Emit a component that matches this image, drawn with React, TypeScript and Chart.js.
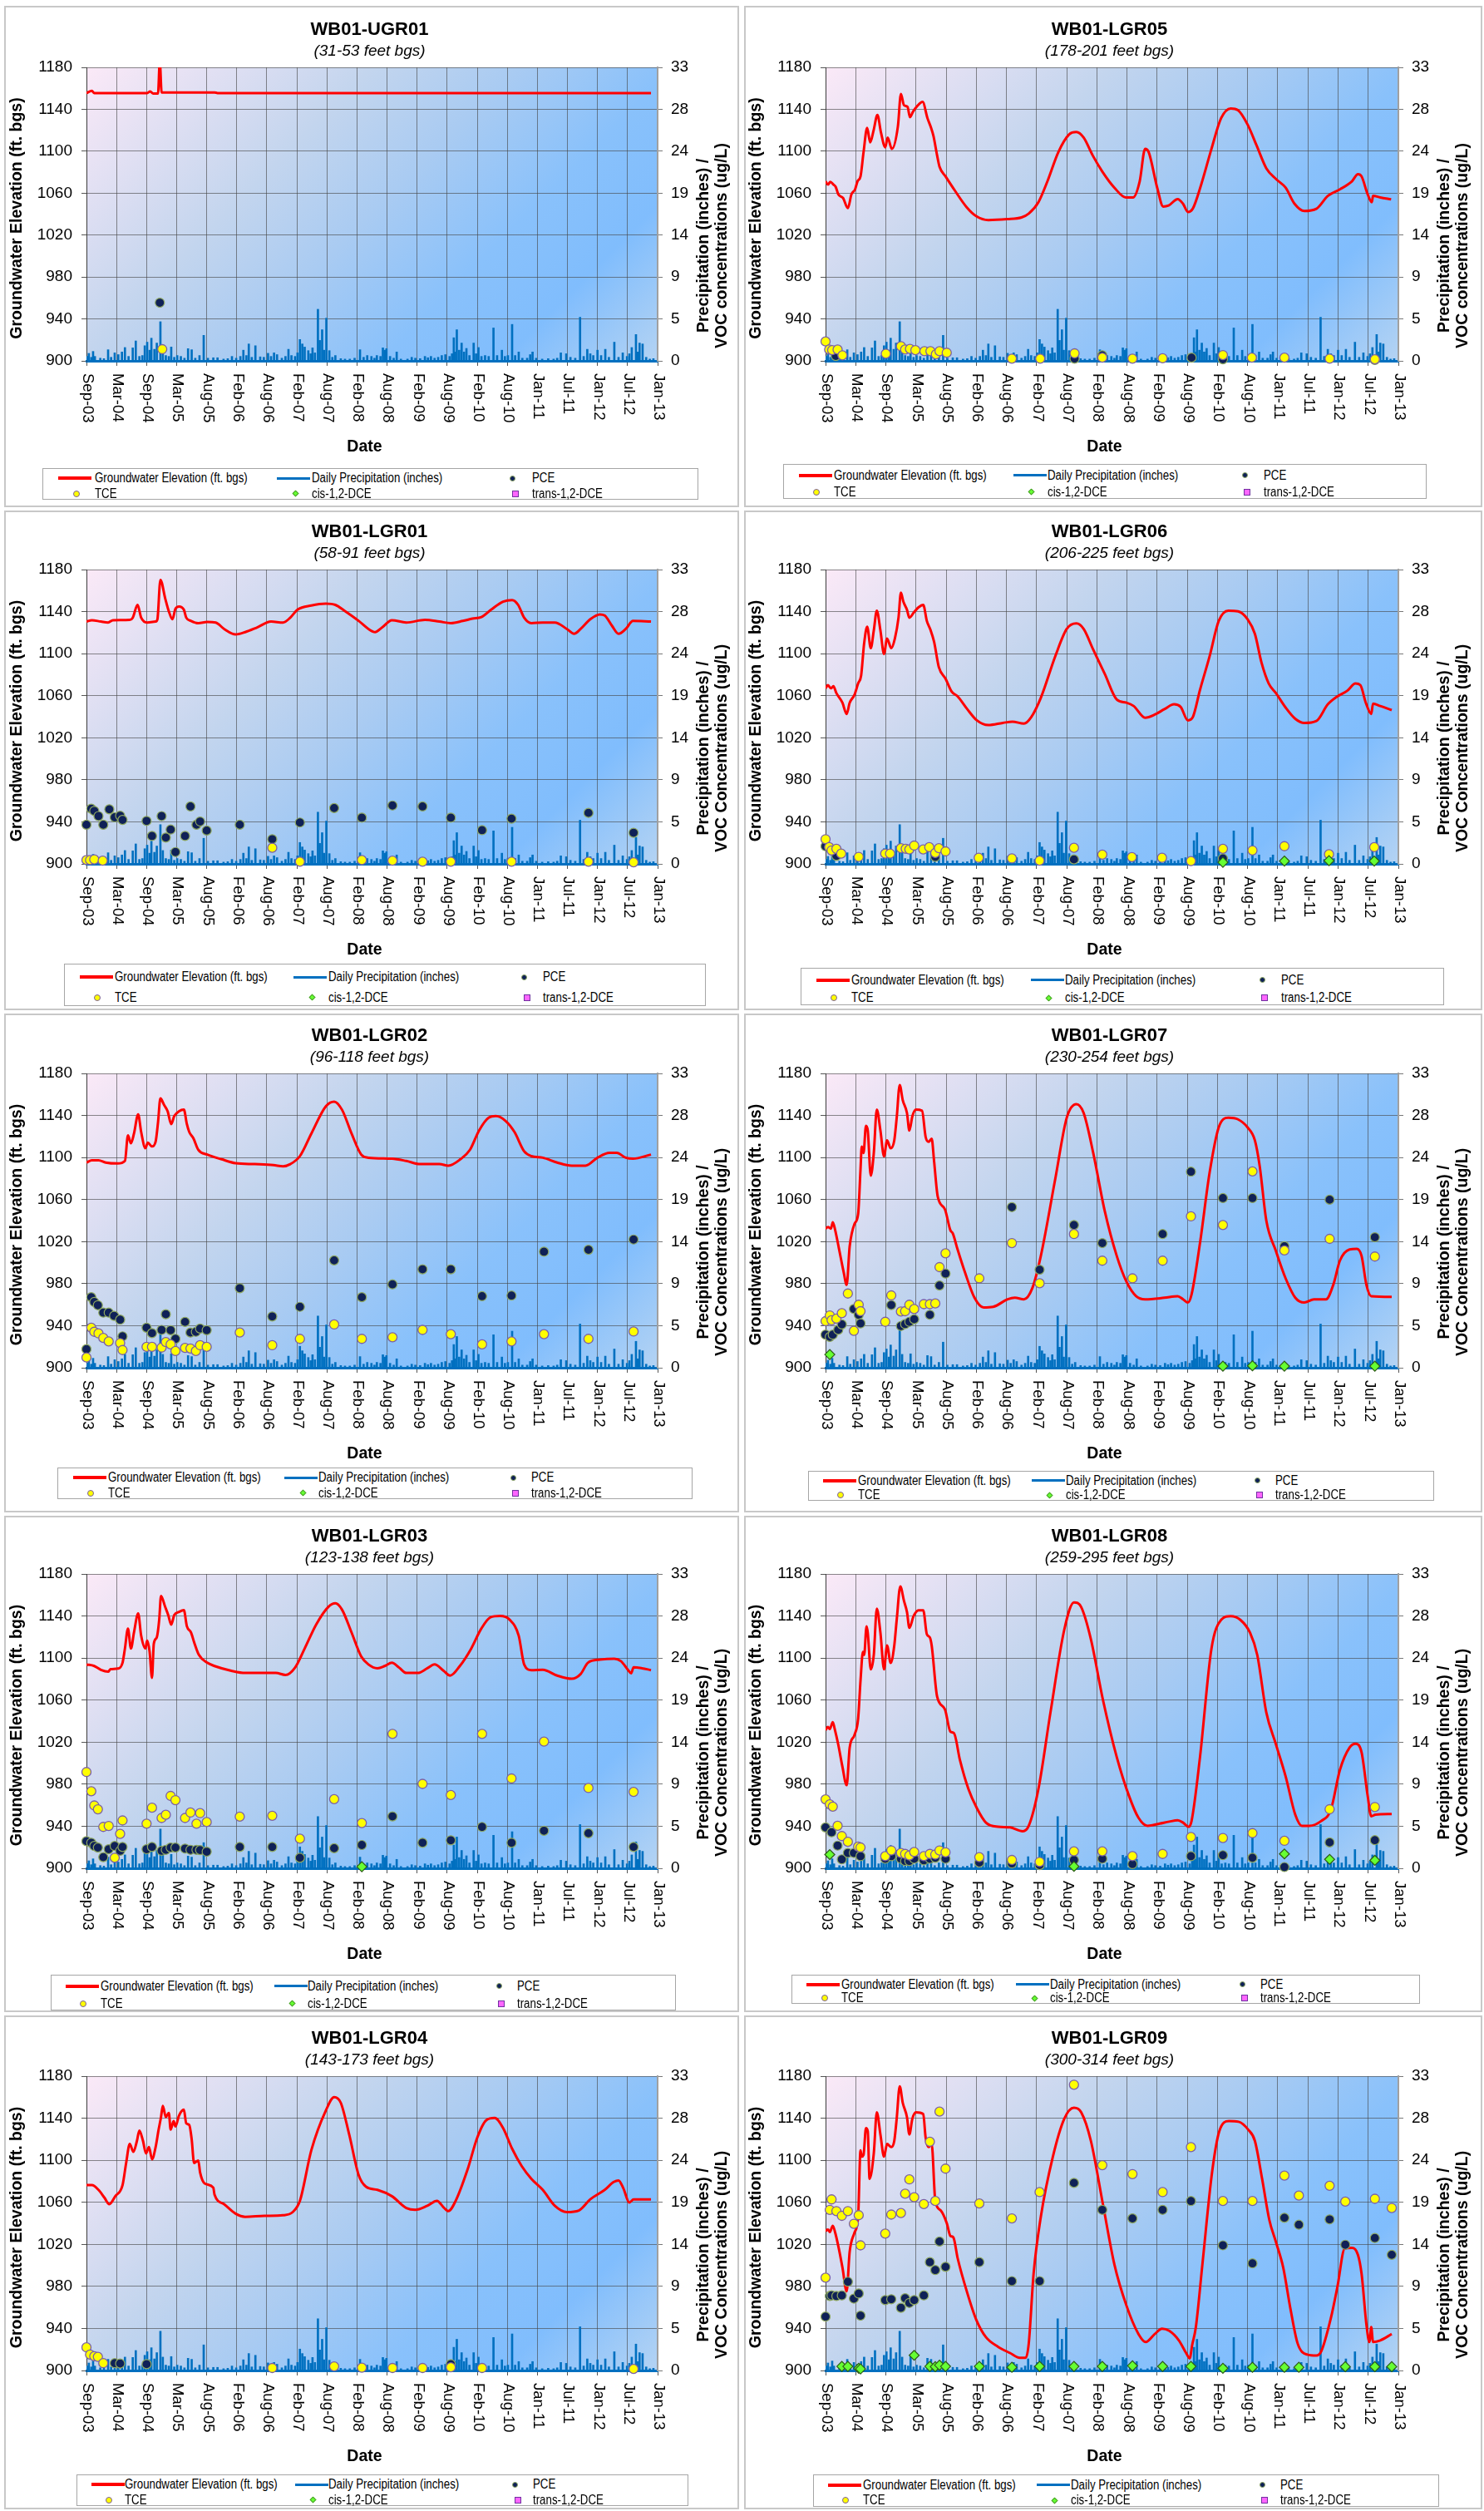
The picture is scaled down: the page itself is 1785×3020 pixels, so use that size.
import React, { useEffect, useRef } from 'react';
import { Chart, registerables } from 'chart.js';
Chart.register(...registerables);

type Pt = [number, number];

// ---------- axes ----------
const X_MIN = 2003.67;
const X_STEP = 0.5;
const X_TICK_LABELS = ['Sep-03','Mar-04','Sep-04','Mar-05','Aug-05','Feb-06','Aug-06','Feb-07','Aug-07','Feb-08','Aug-08','Feb-09','Aug-09','Feb-10','Aug-10','Jan-11','Jul-11','Jan-12','Jul-12','Jan-13'];
const X_MAX = X_MIN + X_STEP * (X_TICK_LABELS.length - 1);
const ELEV_MIN = 900, ELEV_MAX = 1180, ELEV_STEP = 40;
const CONC_MAX = 33, CONC_DIVS = 7;

const SERIES_LABELS = ['Groundwater Elevation (ft. bgs)', 'Daily Precipitation (inches)', 'PCE', 'TCE', 'cis-1,2-DCE', 'trans-1,2-DCE'];
const LEFT_TITLE = 'Groundwater Elevation (ft. bgs)';
const RIGHT_TITLE_1 = 'Precipitation (inches) /';

// ---------- daily precipitation (inches), shared by all wells ----------
const PRECIP: Pt[] = [
  [2003.68,0.5],[2003.71,0.84],[2003.75,0.4],[2003.78,1.06],[2003.81,0.5],[2003.9,0.3],[2003.96,0.25],[2004.03,1.25],[2004.08,0.4],[2004.14,0.9],
  [2004.2,0.7],[2004.26,1.0],[2004.31,1.5],[2004.37,0.5],[2004.44,1.46],[2004.49,2.24],[2004.55,0.5],[2004.6,0.6],[2004.64,1.7],[2004.68,2.1],
  [2004.72,1.2],[2004.75,2.55],[2004.8,1.3],[2004.84,2.0],[2004.9,4.4],[2004.94,1.5],[2004.99,0.6],[2005.04,0.5],[2005.08,1.56],[2005.13,0.4],
  [2005.18,0.6],[2005.24,0.5],[2005.3,0.3],[2005.36,1.37],[2005.42,1.25],[2005.48,0.3],[2005.55,0.6],[2005.62,2.87],[2005.69,0.3],[2005.78,0.35],
  [2005.85,0.35],[2005.95,0.2],[2006.02,0.25],[2006.09,0.5],[2006.16,0.3],[2006.23,0.5],[2006.28,1.2],[2006.33,0.6],[2006.37,1.9],[2006.42,0.4],
  [2006.48,1.7],[2006.56,0.45],[2006.62,0.4],[2006.69,0.85],[2006.74,0.5],[2006.79,0.9],[2006.84,0.7],[2006.92,0.3],[2006.98,0.5],[2007.03,1.3],
  [2007.08,0.6],[2007.14,0.5],[2007.18,0.9],[2007.22,2.4],[2007.26,1.9],[2007.3,1.55],[2007.36,1.15],[2007.4,0.8],[2007.43,1.46],[2007.47,0.9],
  [2007.52,5.8],[2007.55,2.3],[2007.59,3.5],[2007.62,1.2],[2007.66,4.8],[2007.71,1.15],[2007.76,0.4],[2007.81,0.6],[2007.9,0.25],[2007.97,0.2],
  [2008.05,0.2],[2008.13,0.3],[2008.22,1.25],[2008.28,0.4],[2008.34,0.6],[2008.41,0.5],[2008.46,0.3],[2008.5,0.6],[2008.56,0.5],[2008.6,1.46],
  [2008.63,1.2],[2008.66,1.37],[2008.72,0.5],[2008.78,0.3],[2008.83,1.0],[2008.9,0.2],[2009.01,0.2],[2009.08,0.4],[2009.14,0.3],[2009.22,0.25],
  [2009.3,0.5],[2009.35,0.35],[2009.4,0.5],[2009.46,0.3],[2009.52,0.4],[2009.58,0.6],[2009.64,0.7],[2009.71,0.5],[2009.75,0.8],[2009.78,2.6],
  [2009.8,1.0],[2009.83,3.5],[2009.87,1.2],[2009.91,2.0],[2009.95,1.0],[2009.99,1.4],[2010.04,0.6],[2010.11,2.0],[2010.15,0.8],[2010.19,1.5],
  [2010.24,0.5],[2010.3,0.6],[2010.36,0.5],[2010.44,3.7],[2010.5,0.6],[2010.58,1.2],[2010.63,0.5],[2010.68,0.6],[2010.75,4.1],[2010.8,0.6],
  [2010.86,1.0],[2010.92,0.3],[2011.0,0.3],[2011.05,0.7],[2011.09,1.0],[2011.15,0.3],[2011.25,0.2],[2011.35,0.25],[2011.44,0.2],[2011.5,0.3],
  [2011.56,0.9],[2011.65,0.8],[2011.72,0.4],[2011.8,0.3],[2011.88,4.9],[2011.94,0.5],[2012.0,1.3],[2012.05,0.8],[2012.1,0.6],[2012.17,1.2],
  [2012.23,0.6],[2012.3,1.3],[2012.36,0.4],[2012.45,2.1],[2012.52,0.4],[2012.59,0.9],[2012.66,0.5],[2012.7,0.8],[2012.74,1.5],[2012.81,2.96],
  [2012.84,1.0],[2012.87,2.0],[2012.92,1.9],[2012.98,0.4],[2013.04,0.2],[2013.1,0.25],
];

// ---------- WB01-UGR01 ----------
const UGR01_GW: Pt[] = [[2003.67,1155.5],[2003.76,1157.5],[2003.8,1155.5],[2004.68,1155.5],[2004.73,1157],[2004.78,1155],[2004.86,1155],[2004.89,1186],[2004.92,1156],[2005.8,1156],[2005.85,1155.5],[2013.06,1155.5]];
const UGR01_PCE: Pt[] = [[2004.89,6.54]];
const UGR01_TCE: Pt[] = [[2004.93,1.31]];
const UGR01_CIS: Pt[] = [];
const UGR01_TRANS: Pt[] = [];

// ---------- WB01-LGR05 ----------
const LGR05_GW: Pt[] = [[2003.67,1071.3],[2003.71,1068.2],[2003.75,1070.7],[2003.8,1068.2],[2003.84,1065.8],[2003.88,1059],[2003.96,1055.3],[2004.04,1045.7],[2004.1,1059],[2004.16,1063.6],[2004.2,1071.3],[2004.25,1076],[2004.3,1099],[2004.36,1122.3],[2004.41,1108.4],[2004.47,1120.7],[2004.53,1134.6],[2004.59,1117.6],[2004.66,1103.7],[2004.7,1113],[2004.77,1102.2],[2004.87,1123.8],[2004.92,1154.7],[2004.97,1143.9],[2005.03,1142.3],[2005.07,1132.5],[2005.12,1137.7],[2005.18,1142.3],[2005.28,1147],[2005.36,1131.5],[2005.42,1122.3],[2005.46,1114.5],[2005.52,1096],[2005.56,1085.2],[2005.66,1076],[2005.82,1062],[2006.01,1046.6],[2006.17,1038],[2006.37,1034.3],[2006.68,1035.2],[2006.92,1036.8],[2007.04,1040.5],[2007.2,1051.3],[2007.35,1071.3],[2007.53,1099],[2007.71,1116],[2007.83,1118.3],[2007.95,1113],[2008.1,1096],[2008.26,1080.6],[2008.46,1065.2],[2008.65,1055.9],[2008.77,1055.9],[2008.88,1071.3],[2008.97,1102.2],[2009.03,1099],[2009.17,1065.2],[2009.27,1047.2],[2009.36,1048.2],[2009.51,1054.3],[2009.6,1049.7],[2009.68,1042],[2009.76,1045.1],[2009.9,1068.2],[2010.07,1102.2],[2010.23,1131.5],[2010.39,1140.8],[2010.51,1139.2],[2010.67,1125.4],[2010.82,1105.3],[2010.98,1083.7],[2011.14,1073.5],[2011.3,1065.2],[2011.45,1049.7],[2011.61,1043],[2011.81,1045.1],[2012.0,1057.4],[2012.2,1063.6],[2012.4,1071.3],[2012.5,1078.1],[2012.56,1076],[2012.66,1059],[2012.73,1051.3],[2012.75,1057.4],[2012.87,1055.9],[2013.05,1054]];
const LGR05_PCE: Pt[] = [[2003.84,0.55],[2007.8,0.25],[2008.26,0.62],[2009.74,0.36],[2010.26,0.18],[2012.78,0.1]];
const LGR05_TCE: Pt[] = [[2003.67,2.18],[2003.73,1.27],[2003.78,1.2],[2003.87,1.27],[2003.95,0.62],[2004.67,0.8],[2004.92,1.64],[2004.99,1.27],[2005.07,1.35],[2005.16,1.2],[2005.31,1.09],[2005.41,1.09],[2005.5,0.73],[2005.56,1.09],[2005.68,0.91],[2006.76,0.25],[2007.23,0.25],[2007.8,0.84],[2008.26,0.36],[2008.76,0.25],[2009.26,0.29],[2010.26,0.65],[2010.74,0.36],[2011.28,0.36],[2012.03,0.25],[2012.78,0.18]];
const LGR05_CIS: Pt[] = [];
const LGR05_TRANS: Pt[] = [];

// ---------- WB01-LGR01 ----------
const LGR01_GW: Pt[] = [[2003.67,1130.5],[2003.76,1131.8],[2003.91,1130.5],[2004.03,1129.6],[2004.11,1131.8],[2004.39,1132.1],[2004.44,1134.2],[2004.52,1146.4],[2004.58,1134.2],[2004.68,1129.6],[2004.82,1130.5],[2004.85,1132.7],[2004.9,1170.2],[2004.98,1152.5],[2005.04,1140.3],[2005.1,1132.7],[2005.15,1142.7],[2005.21,1144.9],[2005.29,1141.8],[2005.33,1134.2],[2005.41,1131.1],[2005.53,1129],[2005.68,1130.2],[2005.82,1129.6],[2005.96,1123.5],[2006.15,1118.3],[2006.31,1120.5],[2006.51,1125],[2006.74,1130.5],[2006.94,1129.6],[2007.06,1134.2],[2007.18,1141.8],[2007.41,1145.8],[2007.65,1147.6],[2007.81,1146.4],[2007.96,1140.9],[2008.2,1131.1],[2008.36,1123.5],[2008.47,1120.5],[2008.59,1125],[2008.75,1131.8],[2008.99,1129.6],[2009.3,1132.1],[2009.54,1130.5],[2009.73,1129],[2009.93,1131.1],[2010.09,1133.3],[2010.24,1134.8],[2010.4,1141.8],[2010.6,1149.5],[2010.75,1151],[2010.85,1146.4],[2010.95,1134.2],[2011.07,1129],[2011.26,1129.6],[2011.46,1129.6],[2011.66,1123.5],[2011.78,1118.9],[2011.89,1123.5],[2012.05,1132.7],[2012.21,1137.3],[2012.29,1136.3],[2012.41,1126.6],[2012.52,1118.9],[2012.64,1123.5],[2012.76,1131.1],[2013.06,1130.5]];
const LGR01_PCE: Pt[] = [[2003.67,4.39],[2003.75,6.19],[2003.8,5.94],[2003.87,5.36],[2003.95,4.39],[2004.05,6.12],[2004.14,5.22],[2004.23,5.4],[2004.27,4.93],[2004.67,4.82],[2004.76,3.13],[2004.92,5.36],[2004.99,2.95],[2005.07,3.85],[2005.15,1.33],[2005.31,3.13],[2005.4,6.44],[2005.5,4.39],[2005.56,4.75],[2005.67,3.74],[2006.22,4.39],[2006.76,2.77],[2007.22,4.64],[2007.79,6.26],[2008.25,5.18],[2008.76,6.55],[2009.26,6.44],[2009.73,5.18],[2010.25,3.78],[2010.74,5.07],[2012.02,5.72],[2012.77,3.49]];
const LGR01_TCE: Pt[] = [[2003.67,0.43],[2003.73,0.43],[2003.8,0.5],[2003.94,0.36],[2006.76,1.8],[2007.22,0.25],[2008.25,0.43],[2008.76,0.36],[2009.26,0.25],[2009.73,0.25],[2010.74,0.25],[2012.02,0.25],[2012.77,0.18]];
const LGR01_CIS: Pt[] = [];
const LGR01_TRANS: Pt[] = [];

// ---------- WB01-LGR06 ----------
const LGR06_GW: Pt[] = [[2003.67,1067],[2003.71,1070],[2003.76,1067],[2003.8,1069],[2003.85,1062.4],[2003.95,1053.3],[2004.02,1042.6],[2004.07,1053.3],[2004.15,1060.9],[2004.21,1071.6],[2004.26,1079.2],[2004.31,1109.8],[2004.36,1125.6],[2004.42,1105.2],[2004.47,1122],[2004.52,1140.9],[2004.58,1122],[2004.64,1099.7],[2004.69,1114.4],[2004.76,1105.2],[2004.82,1114.4],[2004.88,1134.2],[2004.92,1158],[2004.96,1149.5],[2005.02,1141.8],[2005.06,1134.2],[2005.13,1138.8],[2005.21,1144],[2005.29,1146.4],[2005.35,1131.1],[2005.41,1122.6],[2005.47,1111.3],[2005.55,1086.9],[2005.66,1076.2],[2005.76,1064],[2005.86,1059.4],[2006.02,1047.2],[2006.18,1036.5],[2006.37,1032],[2006.61,1034.1],[2006.77,1035.3],[2006.96,1033.4],[2007.08,1039.5],[2007.24,1057.9],[2007.48,1097.6],[2007.67,1123.5],[2007.83,1128.7],[2007.95,1123.5],[2008.11,1103.7],[2008.3,1080.8],[2008.5,1056.3],[2008.66,1053.3],[2008.78,1050.2],[2008.97,1039.1],[2009.13,1042],[2009.29,1047.2],[2009.45,1051.8],[2009.56,1049.3],[2009.68,1036.5],[2009.76,1039.5],[2009.88,1065.5],[2010.04,1097.6],[2010.19,1131.1],[2010.35,1140.9],[2010.51,1140.3],[2010.67,1132.7],[2010.79,1118.9],[2010.9,1091.5],[2011.02,1071.6],[2011.14,1062.4],[2011.3,1048.7],[2011.46,1038],[2011.61,1034],[2011.81,1035.9],[2012.0,1051.8],[2012.16,1059.4],[2012.32,1064.6],[2012.46,1071.6],[2012.54,1070],[2012.63,1053.3],[2012.72,1042.6],[2012.75,1052.4],[2012.87,1050.2],[2013.06,1046.3]];
const LGR06_PCE: Pt[] = [[2003.67,1.98],[2003.85,0.9],[2005.49,0.79],[2007.79,0.5],[2010.26,0.61]];
const LGR06_TCE: Pt[] = [[2003.67,2.77],[2003.73,1.87],[2003.77,1.51],[2003.85,1.69],[2003.93,1.15],[2004.22,0.79],[2004.66,1.15],[2004.74,1.15],[2004.92,1.76],[2005.0,1.69],[2005.06,1.62],[2005.14,2.05],[2005.29,1.62],[2005.39,1.87],[2005.49,1.22],[2005.55,1.76],[2005.66,1.4],[2006.21,0.68],[2006.76,0.61],[2007.22,0.36],[2007.79,1.8],[2008.26,1.04],[2008.75,0.76],[2009.25,0.68],[2009.73,0.32],[2010.26,1.69],[2010.75,1.51],[2011.28,1.98],[2012.02,1.08],[2012.77,1.87]];
const LGR06_CIS: Pt[] = [[2010.26,0.18],[2011.28,0.32],[2012.02,0.36],[2012.77,0.32]];
const LGR06_TRANS: Pt[] = [];

// ---------- WB01-LGR02 ----------
const LGR02_GW: Pt[] = [[2003.67,1095.2],[2003.76,1097.4],[2003.87,1097.4],[2003.99,1095.2],[2004.19,1094.3],[2004.31,1096.7],[2004.36,1121.1],[2004.41,1113.5],[2004.46,1122.7],[2004.53,1141],[2004.58,1124.2],[2004.65,1108.9],[2004.69,1114.1],[2004.76,1110.5],[2004.82,1115],[2004.86,1133.3],[2004.9,1156.2],[2004.96,1150.1],[2005.02,1144],[2005.08,1131.8],[2005.13,1139.4],[2005.21,1144],[2005.29,1145.5],[2005.34,1131.8],[2005.38,1124.2],[2005.45,1118.1],[2005.53,1107.4],[2005.68,1102.8],[2005.92,1098.3],[2006.15,1094.6],[2006.47,1093.7],[2006.78,1092.8],[2006.94,1091.6],[2007.06,1093.7],[2007.22,1101.3],[2007.41,1122.7],[2007.65,1148.6],[2007.79,1153.2],[2007.92,1145.5],[2008.08,1122.7],[2008.24,1102.8],[2008.36,1099.8],[2008.75,1098.9],[2008.99,1096.7],[2009.22,1093.7],[2009.54,1093.7],[2009.69,1092.2],[2009.89,1098.3],[2010.05,1107.4],[2010.2,1125.7],[2010.36,1137.9],[2010.48,1139.4],[2010.64,1134.9],[2010.79,1124.2],[2010.95,1105.9],[2011.07,1101.3],[2011.26,1099.8],[2011.5,1095.2],[2011.74,1092.2],[2011.97,1092.2],[2012.17,1099.8],[2012.37,1104.4],[2012.49,1104.4],[2012.64,1099.8],[2012.76,1098.9],[2013.06,1102.8]];
const LGR02_PCE: Pt[] = [[2003.67,2.08],[2003.75,7.91],[2003.8,7.37],[2003.86,7.01],[2003.95,6.18],[2004.04,6.18],[2004.13,5.82],[2004.23,5.39],[2004.27,3.52],[2004.67,4.49],[2004.76,3.88],[2004.92,4.24],[2004.99,6.0],[2005.07,4.21],[2005.15,3.24],[2005.31,5.14],[2005.4,3.95],[2005.49,4.03],[2005.56,4.39],[2005.67,4.21],[2006.22,8.92],[2006.76,5.75],[2007.22,6.83],[2007.79,12.04],[2008.25,7.91],[2008.76,9.35],[2009.26,11.04],[2009.73,11.04],[2010.25,8.02],[2010.74,8.09],[2011.28,13.01],[2012.02,13.23],[2012.77,14.38]];
const LGR02_TCE: Pt[] = [[2003.67,1.15],[2003.75,4.49],[2003.8,4.03],[2003.87,3.85],[2003.95,3.34],[2004.04,2.95],[2004.23,2.77],[2004.27,1.98],[2004.67,2.34],[2004.76,2.34],[2004.92,2.26],[2004.99,2.88],[2005.07,2.62],[2005.15,1.87],[2005.31,2.23],[2005.4,2.16],[2005.49,1.87],[2005.56,2.52],[2005.67,2.34],[2006.22,3.95],[2006.76,2.52],[2007.22,3.24],[2007.79,4.85],[2008.25,3.24],[2008.76,3.42],[2009.26,4.24],[2009.73,3.77],[2010.25,2.62],[2010.74,2.95],[2011.28,3.77],[2012.02,3.24],[2012.77,4.06]];
const LGR02_CIS: Pt[] = [];
const LGR02_TRANS: Pt[] = [];

// ---------- WB01-LGR07 ----------
const LGR07_GW: Pt[] = [[2003.67,1032.3],[2003.71,1033.9],[2003.76,1032.3],[2003.79,1038.5],[2003.83,1030.8],[2003.89,1014],[2003.97,991.1],[2004.02,978.8],[2004.07,1015.5],[2004.15,1036.9],[2004.21,1046.1],[2004.25,1088.9],[2004.27,1110.3],[2004.3,1104.2],[2004.34,1130.2],[2004.37,1125.6],[2004.42,1082.8],[2004.47,1104.2],[2004.52,1145.5],[2004.58,1125.6],[2004.64,1101.1],[2004.69,1116.4],[2004.75,1108.8],[2004.81,1116.4],[2004.85,1137.8],[2004.9,1169],[2004.95,1154.6],[2005.02,1142.4],[2005.06,1125.6],[2005.11,1139.3],[2005.17,1145.5],[2005.27,1144.5],[2005.33,1119.5],[2005.38,1114.9],[2005.43,1117.9],[2005.47,1096.5],[2005.53,1062.9],[2005.65,1050.7],[2005.74,1030.8],[2005.78,1027.8],[2005.86,1012.5],[2005.98,991.1],[2006.14,966.6],[2006.29,957.4],[2006.45,958],[2006.69,965.1],[2006.81,966.6],[2006.96,965.1],[2007.1,975.8],[2007.24,1006.3],[2007.48,1079.7],[2007.67,1137.8],[2007.83,1150.7],[2007.95,1142.4],[2008.11,1104.2],[2008.3,1049.2],[2008.5,1006.3],[2008.66,981.9],[2008.82,968.1],[2008.97,965.1],[2009.29,966.6],[2009.51,968.1],[2009.6,965.1],[2009.68,962],[2009.74,969.7],[2009.88,1018.6],[2010.04,1085.8],[2010.19,1128.6],[2010.35,1137.8],[2010.51,1136.3],[2010.67,1128.6],[2010.79,1116.4],[2010.87,1091.9],[2010.98,1040],[2011.14,1010.9],[2011.3,985],[2011.46,966.6],[2011.61,962],[2011.77,965.1],[2011.97,965.1],[2012.09,978.8],[2012.2,1001.8],[2012.36,1012.5],[2012.48,1013.1],[2012.56,1006.3],[2012.64,978.8],[2012.72,968.1],[2013.06,967.5]];
const LGR07_PCE: Pt[] = [[2003.67,3.71],[2003.74,3.46],[2003.79,3.71],[2003.88,4.25],[2003.94,4.86],[2004.14,6.59],[2004.22,5.94],[2004.25,4.97],[2004.76,7.03],[2004.92,4.68],[2004.99,4.9],[2005.06,5.15],[2005.14,5.44],[2005.4,5.94],[2005.56,9.22],[2005.66,10.56],[2006.76,18.01],[2007.22,10.99],[2007.79,16.0],[2008.26,13.98],[2009.26,14.99],[2009.73,21.98],[2010.26,19.02],[2010.75,19.02],[2011.28,13.62],[2012.03,18.84],[2012.78,14.63]];
const LGR07_TCE: Pt[] = [[2003.67,5.22],[2003.74,5.87],[2003.77,5.33],[2003.85,5.51],[2003.94,6.12],[2004.04,8.32],[2004.14,4.14],[2004.22,7.06],[2004.25,6.34],[2004.66,5.15],[2004.76,8.11],[2004.92,6.3],[2004.99,6.34],[2005.06,7.06],[2005.14,6.59],[2005.3,7.13],[2005.4,7.13],[2005.49,7.21],[2005.56,11.28],[2005.66,12.83],[2006.22,10.02],[2006.76,13.98],[2007.22,9.47],[2007.79,14.99],[2008.26,12.0],[2008.76,10.02],[2009.26,12.0],[2009.73,16.97],[2010.26,16.0],[2010.75,22.01],[2011.28,13.15],[2012.03,14.45],[2012.78,12.47]];
const LGR07_CIS: Pt[] = [[2003.74,1.48],[2010.26,0.18],[2010.75,0.22],[2011.28,0.18],[2012.78,0.18]];
const LGR07_TRANS: Pt[] = [];

// ---------- WB01-LGR03 ----------
const LGR03_GW: Pt[] = [[2003.67,1093.9],[2003.8,1092.4],[2003.91,1088.8],[2004.03,1087],[2004.07,1089.4],[2004.19,1090],[2004.27,1095.5],[2004.31,1109.1],[2004.36,1127.9],[2004.41,1109.1],[2004.46,1124.2],[2004.53,1142.4],[2004.58,1121.2],[2004.65,1109.1],[2004.68,1116.7],[2004.72,1106.1],[2004.76,1081.2],[2004.79,1113.6],[2004.84,1119.7],[2004.88,1136.4],[2004.91,1159.1],[2004.98,1148.5],[2005.03,1140.9],[2005.08,1131.8],[2005.13,1140.9],[2005.21,1143.9],[2005.29,1145.5],[2005.34,1130.3],[2005.41,1124.2],[2005.46,1115.2],[2005.54,1103],[2005.68,1095.5],[2005.8,1092.4],[2006.08,1087.9],[2006.31,1085.8],[2006.63,1085.8],[2006.82,1085.8],[2006.98,1083.9],[2007.14,1090.9],[2007.3,1109.1],[2007.49,1131.8],[2007.69,1148.5],[2007.81,1152.1],[2007.92,1146.1],[2008.08,1124.2],[2008.24,1101.5],[2008.36,1093.9],[2008.51,1090.3],[2008.63,1092.4],[2008.75,1095.5],[2008.87,1090.9],[2008.99,1085.8],[2009.18,1085.8],[2009.34,1090.3],[2009.46,1093.9],[2009.61,1087.9],[2009.72,1083.3],[2009.88,1092.4],[2010.07,1109.1],[2010.23,1127.3],[2010.39,1138.8],[2010.55,1140],[2010.71,1136.4],[2010.86,1121.2],[2010.95,1093.9],[2011.07,1088.5],[2011.26,1088.8],[2011.5,1083.3],[2011.74,1080.3],[2011.89,1084.8],[2012.01,1095.5],[2012.21,1098.5],[2012.45,1099.4],[2012.56,1097],[2012.68,1088.5],[2012.73,1085.5],[2012.77,1091.2],[2012.91,1090.3],[2013.06,1088.5]];
const LGR03_PCE: Pt[] = [[2003.67,3.04],[2003.75,2.86],[2003.8,2.5],[2003.86,2.32],[2003.95,1.25],[2004.04,2.14],[2004.14,2.5],[2004.23,1.96],[2004.27,2.39],[2004.67,2.14],[2004.76,2.39],[2004.92,1.96],[2004.99,2.07],[2005.07,2.32],[2005.15,2.32],[2005.31,2.21],[2005.4,2.07],[2005.5,2.07],[2005.56,2.04],[2005.67,1.86],[2006.22,2.39],[2006.76,2.39],[2007.22,1.18],[2007.79,2.25],[2008.25,2.61],[2008.76,5.82],[2009.26,2.86],[2009.73,3.14],[2010.25,4.64],[2010.74,2.86],[2011.28,4.21],[2012.02,3.93],[2012.77,2.39]];
const LGR03_TCE: Pt[] = [[2003.67,10.79],[2003.75,8.64],[2003.8,7.04],[2003.86,6.61],[2003.95,4.64],[2004.04,4.75],[2004.14,1.18],[2004.23,3.86],[2004.27,5.36],[2004.67,5.0],[2004.76,6.79],[2004.92,5.64],[2004.99,6.0],[2005.07,8.11],[2005.15,7.64],[2005.31,5.64],[2005.4,6.25],[2005.5,5.0],[2005.56,6.18],[2005.67,5.18],[2006.22,5.79],[2006.76,5.89],[2007.22,3.32],[2007.79,7.75],[2008.25,5.07],[2008.76,15.07],[2009.26,9.46],[2009.73,8.21],[2010.25,15.07],[2010.74,10.07],[2011.28,14.21],[2012.02,9.0],[2012.77,8.57]];
const LGR03_CIS: Pt[] = [[2008.25,0.18]];
const LGR03_TRANS: Pt[] = [];

// ---------- WB01-LGR08 ----------
const LGR08_GW: Pt[] = [[2003.67,1031.5],[2003.71,1034.5],[2003.74,1032.4],[2003.79,1039.1],[2003.82,1033],[2003.88,1017.8],[2003.95,996.6],[2004.02,979],[2004.07,1014.8],[2004.15,1026.9],[2004.21,1042.1],[2004.25,1078.6],[2004.29,1105.9],[2004.31,1102.9],[2004.35,1130.2],[2004.37,1124.1],[2004.42,1089.2],[2004.47,1102.9],[2004.52,1146.9],[2004.58,1124.1],[2004.64,1089.2],[2004.69,1112],[2004.75,1095.3],[2004.81,1112],[2004.85,1136.3],[2004.91,1168.2],[2004.97,1154.5],[2005.02,1143.9],[2005.06,1128.7],[2005.13,1139.9],[2005.21,1145.4],[2005.29,1145.4],[2005.35,1122.6],[2005.4,1119.6],[2005.43,1112],[2005.52,1063.4],[2005.65,1051.2],[2005.74,1030],[2005.8,1028.5],[2005.9,1002.7],[2006.04,975.3],[2006.18,957.1],[2006.33,943.4],[2006.53,939.5],[2006.73,938.9],[2006.94,935.2],[2007.04,940.4],[2007.2,975.3],[2007.4,1048.2],[2007.63,1127.2],[2007.79,1153],[2007.91,1148.4],[2008.07,1118],[2008.27,1060.4],[2008.5,1005.7],[2008.7,969.3],[2008.86,948],[2009.01,940.4],[2009.21,942.5],[2009.37,944.4],[2009.51,945.6],[2009.6,943.4],[2009.69,939.5],[2009.74,945],[2009.88,1005.7],[2010.07,1108.9],[2010.23,1136.3],[2010.39,1139.9],[2010.55,1136.3],[2010.71,1124.1],[2010.83,1102.9],[2010.98,1048.2],[2011.14,1017.8],[2011.3,987.5],[2011.46,951],[2011.57,940.4],[2011.69,940.4],[2011.89,945],[2012.05,955.6],[2012.2,993.5],[2012.36,1014.8],[2012.46,1018.4],[2012.56,1010.2],[2012.66,969.3],[2012.72,949.5],[2012.79,951],[2013.06,951.6]];
const LGR08_PCE: Pt[] = [[2003.67,4.58],[2003.77,4.04],[2003.87,2.54],[2003.94,1.0],[2004.04,1.72],[2004.14,1.72],[2004.25,1.36],[2004.66,1.07],[2004.76,1.36],[2004.92,1.07],[2004.99,0.82],[2005.06,0.82],[2005.14,1.07],[2005.3,0.89],[2005.4,1.07],[2005.49,1.18],[2005.66,1.07],[2006.22,0.64],[2006.76,0.54],[2007.22,0.36],[2007.79,0.93],[2008.26,1.07],[2008.76,0.47],[2009.73,1.36],[2010.26,1.47],[2010.75,1.18],[2011.28,0.14],[2012.03,2.9],[2012.78,3.15]];
const LGR08_TCE: Pt[] = [[2003.67,7.73],[2003.74,7.16],[2003.79,6.91],[2003.87,4.76],[2003.94,3.61],[2004.04,2.97],[2004.21,2.43],[2004.25,2.33],[2004.66,1.36],[2004.76,2.0],[2004.92,1.72],[2004.99,1.61],[2005.06,1.43],[2005.14,1.83],[2005.3,1.36],[2005.4,1.61],[2005.49,1.54],[2005.56,2.0],[2005.66,1.79],[2006.22,1.25],[2006.76,0.93],[2007.22,0.72],[2007.79,1.9],[2008.26,1.9],[2008.76,1.36],[2009.26,1.61],[2009.73,3.51],[2010.26,3.4],[2010.75,3.94],[2011.28,3.08],[2012.03,6.62],[2012.78,6.87]];
const LGR08_CIS: Pt[] = [[2003.74,1.54],[2007.79,0.21],[2011.28,1.61],[2012.03,1.0],[2012.78,0.89]];
const LGR08_TRANS: Pt[] = [];

// ---------- WB01-LGR04 ----------
const LGR04_GW: Pt[] = [[2003.67,1076.3],[2003.76,1076.3],[2003.87,1071.8],[2003.97,1064.3],[2004.05,1058.2],[2004.15,1065.8],[2004.27,1076.3],[2004.33,1097.4],[2004.39,1115.5],[2004.45,1108],[2004.51,1118.5],[2004.55,1128.2],[2004.61,1118.5],[2004.66,1106.5],[2004.71,1112.5],[2004.76,1101],[2004.82,1112.5],[2004.87,1129.1],[2004.91,1141.1],[2004.94,1151.7],[2004.99,1141.1],[2005.04,1145],[2005.07,1129.1],[2005.12,1137.2],[2005.15,1132.1],[2005.21,1142.6],[2005.29,1148.1],[2005.33,1135.1],[2005.38,1133.6],[2005.42,1120],[2005.46,1097.4],[2005.53,1099.8],[2005.56,1088.4],[2005.64,1077.8],[2005.78,1073.9],[2005.8,1067.3],[2005.96,1058.2],[2006.15,1049.2],[2006.31,1046.2],[2006.63,1047.1],[2006.94,1047.7],[2007.1,1050.7],[2007.22,1061.3],[2007.41,1109.5],[2007.65,1147.1],[2007.79,1160.1],[2007.9,1154.7],[2008.04,1124.5],[2008.2,1085.4],[2008.32,1074.8],[2008.51,1071.8],[2008.75,1065.8],[2008.99,1054.6],[2009.14,1052.8],[2009.34,1056.7],[2009.5,1061.3],[2009.61,1055.2],[2009.69,1051.6],[2009.81,1061.3],[2010.01,1091.4],[2010.17,1121.5],[2010.32,1138.1],[2010.46,1140.2],[2010.6,1130.6],[2010.75,1111],[2010.91,1094.4],[2011.07,1082.4],[2011.26,1071.8],[2011.46,1056.7],[2011.66,1050.7],[2011.86,1052.2],[2012.05,1062.8],[2012.29,1071.8],[2012.44,1079.3],[2012.52,1080.8],[2012.6,1073.3],[2012.7,1059.7],[2012.77,1062.8],[2013.06,1062.8]];
const LGR04_PCE: Pt[] = [[2004.14,0.82],[2004.23,0.78],[2004.67,0.71],[2009.73,0.71]];
const LGR04_TCE: Pt[] = [[2003.67,2.59],[2003.73,1.78],[2003.8,1.6],[2003.86,1.53],[2003.95,0.82],[2006.76,0.28],[2007.79,0.46],[2008.25,0.32],[2008.76,0.28],[2009.26,0.28],[2009.73,0.36],[2010.25,0.28],[2012.77,0.18]];
const LGR04_CIS: Pt[] = [];
const LGR04_TRANS: Pt[] = [];

// ---------- WB01-LGR09 ----------
const LGR09_GW: Pt[] = [[2003.67,1032.6],[2003.71,1034.1],[2003.74,1031.7],[2003.79,1037.7],[2003.83,1031.1],[2003.89,1016],[2003.95,998],[2004.02,975.4],[2004.07,1013],[2004.15,1031.1],[2004.21,1046.2],[2004.25,1109.5],[2004.27,1103.4],[2004.3,1105],[2004.34,1130.6],[2004.37,1127.6],[2004.4,1082.4],[2004.47,1106.5],[2004.52,1145.6],[2004.58,1124.5],[2004.64,1103.4],[2004.69,1115.5],[2004.76,1112.5],[2004.81,1118.5],[2004.85,1139.6],[2004.9,1170.4],[2004.95,1154.7],[2005.02,1141.1],[2005.06,1124.5],[2005.11,1139.6],[2005.17,1145.6],[2005.29,1144.1],[2005.33,1121.5],[2005.38,1112.5],[2005.43,1115.5],[2005.49,1061.3],[2005.58,1052.2],[2005.68,1040.2],[2005.74,1028.1],[2005.79,1026.6],[2005.86,1007],[2006.02,973.9],[2006.17,948.2],[2006.33,931.7],[2006.53,922.6],[2006.73,916.6],[2006.89,912.1],[2006.99,912.1],[2007.04,925.6],[2007.12,991.9],[2007.24,1046.2],[2007.44,1103.4],[2007.63,1139.6],[2007.79,1149.9],[2007.91,1145.6],[2008.07,1118.5],[2008.27,1058.2],[2008.46,1001],[2008.66,961.8],[2008.86,934.7],[2008.98,927.1],[2009.13,934.7],[2009.25,939.8],[2009.37,937.7],[2009.53,928.6],[2009.65,916.6],[2009.71,911.5],[2009.75,924.1],[2009.81,940.7],[2009.92,1001],[2010.08,1088.4],[2010.2,1127.6],[2010.36,1137.2],[2010.52,1136.6],[2010.68,1129.1],[2010.79,1118.5],[2010.91,1082.4],[2011.03,1043.2],[2011.14,1022.1],[2011.26,998],[2011.38,958.8],[2011.5,925.6],[2011.66,915.1],[2011.81,914.2],[2011.89,918.1],[2012.05,949.7],[2012.16,979.9],[2012.28,1016],[2012.4,1016.6],[2012.5,1010],[2012.56,991.9],[2012.64,943.7],[2012.69,927.1],[2012.72,941.3],[2012.75,927.1],[2012.87,928.6],[2013.06,934.7]];
const LGR09_PCE: Pt[] = [[2003.67,6.04],[2003.74,8.35],[2003.77,8.42],[2003.85,8.35],[2003.94,8.42],[2004.04,9.95],[2004.14,8.06],[2004.22,8.63],[2004.25,6.15],[2004.66,7.89],[2004.76,7.99],[2004.92,7.03],[2004.99,8.1],[2005.06,7.57],[2005.14,7.89],[2005.3,8.42],[2005.4,12.15],[2005.49,11.26],[2005.56,14.46],[2005.66,11.62],[2006.22,12.15],[2006.76,10.02],[2007.22,10.02],[2007.79,21.03],[2008.26,18.01],[2008.76,17.05],[2009.26,18.01],[2009.73,19.0],[2010.26,14.03],[2010.75,12.01],[2011.28,17.12],[2011.52,16.34],[2012.03,16.94],[2012.29,14.1],[2012.78,14.85],[2013.06,12.97]];
const LGR09_TCE: Pt[] = [[2003.67,10.41],[2003.74,18.01],[2003.77,19.18],[2003.85,17.87],[2003.94,17.34],[2004.04,17.87],[2004.14,16.45],[2004.22,17.41],[2004.25,14.03],[2004.66,15.35],[2004.76,17.48],[2004.92,17.65],[2004.99,19.82],[2005.06,21.42],[2005.14,19.43],[2005.3,18.65],[2005.4,25.65],[2005.49,19.0],[2005.56,29.02],[2005.66,22.63],[2006.22,18.72],[2006.76,17.05],[2007.22,20.0],[2007.79,32.04],[2008.26,23.02],[2008.76,22.02],[2009.26,20.0],[2009.73,25.04],[2010.26,19.0],[2010.75,19.0],[2011.28,21.85],[2011.52,19.61],[2012.03,20.71],[2012.29,18.93],[2012.78,19.25],[2013.06,18.22]];
const LGR09_CIS: Pt[] = [[2003.94,0.46],[2004.04,0.46],[2004.22,0.25],[2004.25,0.18],[2005.14,1.7],[2005.4,0.46],[2005.49,0.43],[2005.56,0.6],[2005.66,0.46],[2006.22,0.46],[2006.76,0.36],[2007.22,0.46],[2007.79,0.46],[2008.26,0.46],[2008.76,0.53],[2009.26,0.46],[2009.73,0.46],[2010.26,0.25],[2010.75,0.36],[2011.28,0.36],[2011.52,0.36],[2012.29,0.43],[2012.78,0.43],[2013.06,0.43]];
const LGR09_TRANS: Pt[] = [];

// ---------- panels (content) ----------
const PANELS = [
  { title: 'WB01-UGR01', depth: '(31-53 feet bgs)', voc: 'VOC concentrations (ug/L)', gw: UGR01_GW, pce: UGR01_PCE, tce: UGR01_TCE, cis: UGR01_CIS, trans: UGR01_TRANS },
  { title: 'WB01-LGR05', depth: '(178-201 feet bgs)', voc: 'VOC concentrations (ug/L)', gw: LGR05_GW, pce: LGR05_PCE, tce: LGR05_TCE, cis: LGR05_CIS, trans: LGR05_TRANS },
  { title: 'WB01-LGR01', depth: '(58-91 feet bgs)', voc: 'VOC Concentrations (ug/L)', gw: LGR01_GW, pce: LGR01_PCE, tce: LGR01_TCE, cis: LGR01_CIS, trans: LGR01_TRANS },
  { title: 'WB01-LGR06', depth: '(206-225 feet bgs)', voc: 'VOC Concentrations (ug/L)', gw: LGR06_GW, pce: LGR06_PCE, tce: LGR06_TCE, cis: LGR06_CIS, trans: LGR06_TRANS },
  { title: 'WB01-LGR02', depth: '(96-118 feet bgs)', voc: 'VOC Concentrations (ug/L)', gw: LGR02_GW, pce: LGR02_PCE, tce: LGR02_TCE, cis: LGR02_CIS, trans: LGR02_TRANS },
  { title: 'WB01-LGR07', depth: '(230-254 feet bgs)', voc: 'VOC Concentrations (ug/L)', gw: LGR07_GW, pce: LGR07_PCE, tce: LGR07_TCE, cis: LGR07_CIS, trans: LGR07_TRANS },
  { title: 'WB01-LGR03', depth: '(123-138 feet bgs)', voc: 'VOC Concentrations (ug/L)', gw: LGR03_GW, pce: LGR03_PCE, tce: LGR03_TCE, cis: LGR03_CIS, trans: LGR03_TRANS },
  { title: 'WB01-LGR08', depth: '(259-295 feet bgs)', voc: 'VOC Concentrations (ug/L)', gw: LGR08_GW, pce: LGR08_PCE, tce: LGR08_TCE, cis: LGR08_CIS, trans: LGR08_TRANS },
  { title: 'WB01-LGR04', depth: '(143-173 feet bgs)', voc: 'VOC Concentrations (ug/L)', gw: LGR04_GW, pce: LGR04_PCE, tce: LGR04_TCE, cis: LGR04_CIS, trans: LGR04_TRANS },
  { title: 'WB01-LGR09', depth: '(300-314 feet bgs)', voc: 'VOC Concentrations (ug/L)', gw: LGR09_GW, pce: LGR09_PCE, tce: LGR09_TCE, cis: LGR09_CIS, trans: LGR09_TRANS },
];

// ---------- layout (page pixels) ----------
const ROW_BOX = [[7, 610], [614, 1215], [1219, 1819], [1823, 2420], [2424, 3018]];
const COL_BOX = [[5, 889], [895, 1783]];
const PLOT_Y = [[81, 434], [685, 1039], [1291, 1645], [1893, 2247], [2497, 2851]];
const PLOT_X = [[104, 791], [993, 1682]];
const LEGEND_BOX = [
  [51, 563, 840, 601], [942, 558, 1716, 600],
  [77, 1159, 849, 1210], [963, 1164, 1737, 1209],
  [69, 1765, 833, 1803], [972, 1769, 1725, 1805],
  [61, 2375, 813, 2418], [952, 2375, 1708, 2410],
  [92, 2976, 828, 3014], [978, 2976, 1731, 3015],
];

// ---------- styles ----------
const FONT = "'Liberation Sans', Arial, sans-serif";
const GW_COLOR = '#ff0000';
const PRECIP_COLOR = '#0070c0';
const PCE_FILL = '#0f2157', PCE_EDGE = '#8fa860';
const TCE_FILL = '#ffff00', TCE_EDGE = '#7b5fa6';
const CIS_FILL = '#66ff33', CIS_EDGE = '#2d5a16';
const TRANS_FILL = '#ff66ff', TRANS_EDGE = '#7030a0';
const GRID_COLOR = 'rgba(70,70,70,0.62)';
const BG_STOPS: [number, string][] = [[0, '#fbe9f7'], [0.33, '#c3d5ee'], [0.5, '#a9cbf2'], [0.68, '#89c1fb'], [0.82, '#80bdfd'], [1, '#b4d3f3']];

const xy = (a: Pt[]) => a.map(([x, y]) => ({ x, y }));

const decorPlugin = {
  id: 'decor',
  beforeDraw(chart: any) {
    const { ctx, chartArea: a } = chart;
    const d = (a.width + a.height) / 2;
    const g = ctx.createLinearGradient(a.left, a.top, a.left + d, a.top + d);
    BG_STOPS.forEach(([o, c]) => g.addColorStop(o, c));
    ctx.save();
    ctx.fillStyle = g;
    ctx.fillRect(a.left, a.top, a.width, a.height);
    ctx.restore();
  },
  afterDraw(chart: any, _args: any, opts: any) {
    const { ctx, chartArea: a } = chart;
    const cx = (a.left + a.right) / 2;
    const cy = (a.top + a.bottom) / 2;
    ctx.save();
    ctx.fillStyle = '#000';
    ctx.textAlign = 'center';
    ctx.textBaseline = 'middle';
    ctx.font = `bold 22px ${FONT}`;
    ctx.fillText(opts.title, cx - 3, a.top - 45);
    ctx.font = `italic 19px ${FONT}`;
    ctx.fillText(opts.depth, cx - 3, a.top - 19);

    ctx.font = `bold 19.5px ${FONT}`;
    ctx.save();
    ctx.translate(a.left - 83, cy + 5);
    ctx.rotate(-Math.PI / 2);
    ctx.fillText(LEFT_TITLE, 0, 0);
    ctx.restore();

    ctx.save();
    ctx.translate(a.right + 56, cy + 38);
    ctx.rotate(-Math.PI / 2);
    ctx.fillText(RIGHT_TITLE_1, 0, 0);
    ctx.restore();
    ctx.save();
    ctx.translate(a.right + 78, cy + 38);
    ctx.rotate(-Math.PI / 2);
    ctx.fillText(opts.voc, 0, 0);
    ctx.restore();

    const xs = chart.scales.x;
    ctx.font = `18.5px ${FONT}`;
    ctx.textAlign = 'left';
    xs.ticks.forEach((t: any, i: number) => {
      const px = xs.getPixelForValue(t.value);
      ctx.save();
      ctx.translate(px + 1, a.bottom + 15);
      ctx.rotate(Math.PI / 2);
      ctx.fillText(X_TICK_LABELS[i] ?? '', 0, 0);
      ctx.restore();
    });

    ctx.font = `bold 19.5px ${FONT}`;
    ctx.textAlign = 'center';
    ctx.fillText('Date', cx - 9, a.bottom + 104);
    ctx.restore();
  },
};

function Marker({ kind, size }: { kind: string; size: number }) {
  const base: any = { position: 'absolute', width: size, height: size, boxSizing: 'border-box', left: -size / 2, top: -size / 2 };
  if (kind === 'pce') return <div style={{ ...base, borderRadius: '50%', background: PCE_FILL, border: `1px solid ${PCE_EDGE}` }} />;
  if (kind === 'tce') return <div style={{ ...base, borderRadius: '50%', background: TCE_FILL, border: `1.5px solid ${TCE_EDGE}` }} />;
  if (kind === 'cis') return <div style={{ ...base, background: CIS_FILL, border: `1px solid ${CIS_EDGE}`, transform: 'rotate(45deg) scale(0.8)' }} />;
  return <div style={{ ...base, background: TRANS_FILL, border: `1.5px solid ${TRANS_EDGE}` }} />;
}

function Legend({ box }: { box: number[] }) {
  const [x1, y1, x2, y2] = box;
  const w = x2 - x1, h = y2 - y1;
  const r1 = h * 0.3, r2 = h * 0.78;
  const text = (label: string, fx: number, cy: number) => (
    <span style={{ position: 'absolute', left: fx * w, top: cy - 9, lineHeight: '18px', fontSize: 16, fontFamily: FONT, whiteSpace: 'nowrap', transform: 'scaleX(0.83)', transformOrigin: '0 50%', color: '#000' }}>{label}</span>
  );
  const mark = (kind: string, fx: number, cy: number, size: number) => (
    <div style={{ position: 'absolute', left: fx * w, top: cy }}><Marker kind={kind} size={size} /></div>
  );
  return (
    <div style={{ position: 'absolute', left: x1, top: y1, width: w, height: h, boxSizing: 'border-box', border: '1px solid #a6a6a6', background: '#fff' }}>
      <div style={{ position: 'absolute', left: 0.023 * w, top: r1 - 2, width: 40, height: 4, background: GW_COLOR }} />
      {text(SERIES_LABELS[0], 0.078, r1)}
      <div style={{ position: 'absolute', left: 0.356 * w, top: r1 - 1.5, width: 40, height: 3, background: PRECIP_COLOR }} />
      {text(SERIES_LABELS[1], 0.41, r1)}
      {mark('pce', 0.716, r1, 7)}
      {text(SERIES_LABELS[2], 0.745, r1)}
      {mark('tce', 0.051, r2, 8)}
      {text(SERIES_LABELS[3], 0.078, r2)}
      {mark('cis', 0.385, r2, 7)}
      {text(SERIES_LABELS[4], 0.41, r2)}
      {mark('trans', 0.72, r2, 8)}
      {text(SERIES_LABELS[5], 0.745, r2)}
    </div>
  );
}

function Panel({ idx }: { idx: number }) {
  const p = PANELS[idx];
  const row = Math.floor(idx / 2), col = idx % 2;
  const ref = useRef<HTMLCanvasElement>(null);
  const [bx0, bx1] = COL_BOX[col];
  const [by0, by1] = ROW_BOX[row];
  const W = bx1 - bx0, H = by1 - by0;
  const plotL = PLOT_X[col][0] - bx0, plotR = PLOT_X[col][1] - bx0;
  const plotT = PLOT_Y[row][0] - by0, plotB = PLOT_Y[row][1] - by0;

  useEffect(() => {
    const tickFont = { family: FONT, size: 19 };
    const chart = new Chart(ref.current as HTMLCanvasElement, {
      type: 'scatter',
      data: {
        datasets: [
          { type: 'scatter', label: SERIES_LABELS[5], data: xy(p.trans), yAxisID: 'y2', pointStyle: 'rect', pointRadius: 5, pointBackgroundColor: TRANS_FILL, pointBorderColor: TRANS_EDGE, pointBorderWidth: 1.2, order: 0, clip: false },
          { type: 'scatter', label: SERIES_LABELS[4], data: xy(p.cis), yAxisID: 'y2', pointStyle: 'rectRot', pointRadius: 6, pointBackgroundColor: CIS_FILL, pointBorderColor: CIS_EDGE, pointBorderWidth: 1.2, order: 1, clip: false },
          { type: 'scatter', label: SERIES_LABELS[3], data: xy(p.tce), yAxisID: 'y2', pointStyle: 'circle', pointRadius: 5.5, pointBackgroundColor: TCE_FILL, pointBorderColor: TCE_EDGE, pointBorderWidth: 1.3, order: 2, clip: false },
          { type: 'scatter', label: SERIES_LABELS[2], data: xy(p.pce), yAxisID: 'y2', pointStyle: 'circle', pointRadius: 5.5, pointBackgroundColor: PCE_FILL, pointBorderColor: PCE_EDGE, pointBorderWidth: 1.2, order: 3, clip: false },
          { type: 'line', label: SERIES_LABELS[0], data: xy(p.gw), yAxisID: 'y', borderColor: GW_COLOR, borderWidth: 3, pointRadius: 0, cubicInterpolationMode: 'monotone', fill: false, order: 5 },
          { type: 'bar', label: SERIES_LABELS[1], data: xy(PRECIP), yAxisID: 'y2', backgroundColor: PRECIP_COLOR, borderWidth: 0, barThickness: 2, order: 10 },
        ] as any,
      },
      options: {
        animation: false,
        responsive: false,
        maintainAspectRatio: false,
        events: [],
        layout: { padding: { top: plotT, left: 0, right: 0, bottom: 0 } },
        plugins: {
          legend: { display: false },
          tooltip: { enabled: false },
          title: { display: false },
          decor: { title: p.title, depth: p.depth, voc: p.voc },
        } as any,
        scales: {
          x: {
            type: 'linear', min: X_MIN, max: X_MAX, offset: false,
            afterBuildTicks: (s: any) => { s.ticks = X_TICK_LABELS.map((_, i) => ({ value: X_MIN + i * X_STEP })); },
            ticks: { display: false },
            grid: { color: GRID_COLOR, lineWidth: 1, tickLength: 6, drawTicks: true, tickColor: '#555', offset: false },
            border: { display: true, color: PRECIP_COLOR, width: 3 },
            afterFit: (s: any) => { s.height = H - plotB; },
          },
          y: {
            type: 'linear', position: 'left', min: ELEV_MIN, max: ELEV_MAX,
            ticks: { stepSize: ELEV_STEP, font: tickFont, color: '#000', padding: 11, callback: (v: any) => String(Math.round(Number(v))) },
            grid: { color: GRID_COLOR, lineWidth: 1, tickLength: 6, tickColor: '#555' },
            border: { display: true, color: '#3c3c3c', width: 1 },
            afterFit: (s: any) => { s.width = plotL; },
          },
          y2: {
            type: 'linear', position: 'right', min: 0, max: CONC_MAX,
            afterBuildTicks: (s: any) => { s.ticks = Array.from({ length: CONC_DIVS + 1 }, (_, k) => ({ value: (CONC_MAX * k) / CONC_DIVS })); },
            ticks: { font: tickFont, color: '#000', padding: 10, callback: (v: any) => String(Math.round(Number(v))) },
            grid: { drawOnChartArea: false, tickLength: 6, tickColor: '#777' },
            border: { display: true, color: '#a0a0a0', width: 2 },
            afterFit: (s: any) => { s.width = W - plotR; },
          },
        } as any,
      },
      plugins: [decorPlugin as any],
    } as any);
    return () => chart.destroy();
  }, []);

  return (
    <>
      <div style={{ position: 'absolute', left: bx0, top: by0, width: W, height: H, boxSizing: 'border-box', border: '2px solid #c8c8c8', background: '#fff' }} />
      <canvas ref={ref} width={W} height={H} style={{ position: 'absolute', left: bx0, top: by0, width: W, height: H }} />
      <Legend box={LEGEND_BOX[idx]} />
    </>
  );
}

export default function App() {
  useEffect(() => { document.body.style.margin = '0'; }, []);
  return (
    <div style={{ position: 'absolute', left: 0, top: 0, width: 1785, height: 3020, background: '#ffffff', overflow: 'hidden' }}>
      {PANELS.map((_, i) => <Panel key={i} idx={i} />)}
    </div>
  );
}
